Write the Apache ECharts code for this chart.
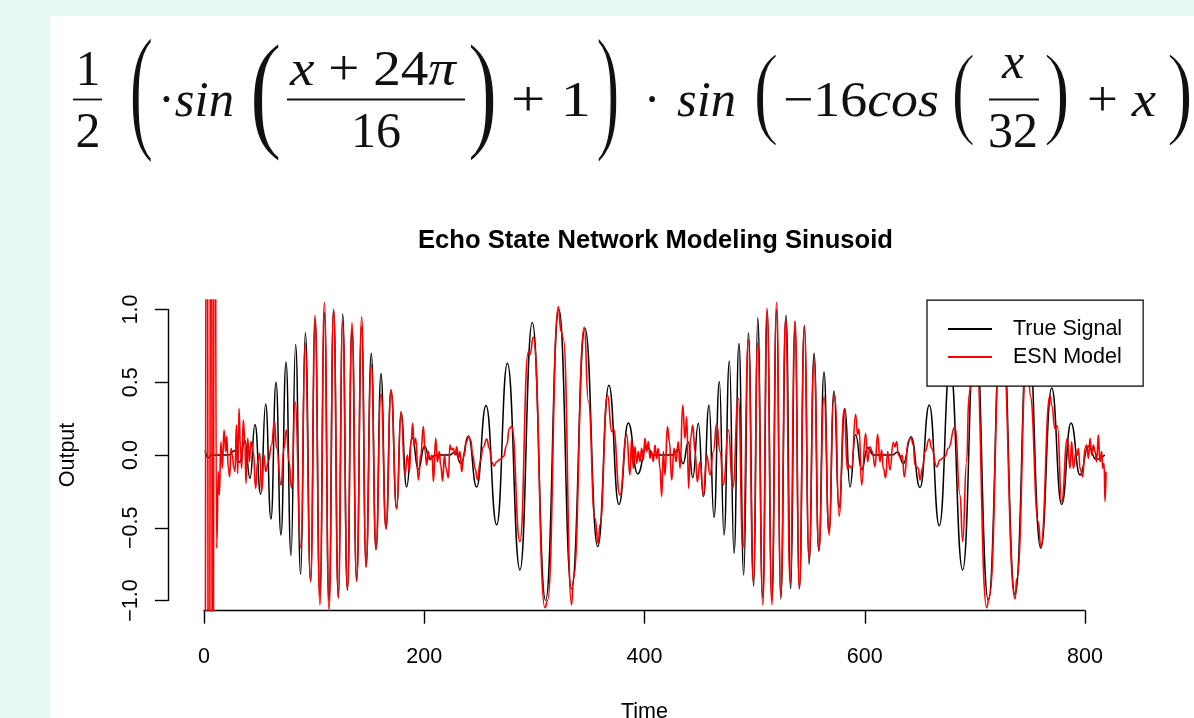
<!DOCTYPE html>
<html><head><meta charset="utf-8">
<script src="https://cdn.jsdelivr.net/npm/echarts@6/dist/echarts.min.js"></script>
<style>
html,body{margin:0;padding:0;width:1194px;height:718px;overflow:hidden;background:#e8f8f5;}
#panel{position:absolute;left:50px;top:16px;right:0;bottom:0;background:#fff;}
#formula{position:absolute;left:0;top:0;width:1194px;height:200px;}
#chart{position:absolute;left:0;top:0;width:1194px;height:718px;}
</style></head><body>
<div id="panel"></div>
<svg id="formula" xmlns="http://www.w3.org/2000/svg" width="1194" height="200"></svg>
<div id="chart"></div>
<script>
// ---------------- data ----------------
const trueTime = [1,4,7,22,27.5,32.5,37,41.8,46.3,51.5,56,60.8,65.4,69.9,74.5,79,83.2,87.8,92,96.9,100.8,105.3,109.3,113.5,117.7,122,125.9,130.2,134.4,138.6,143.2,147.1,151.9,156.2,160.7,165.3,169.8,175,178.9,184,189,194.6,200.3,205.2,210,223,228,233.4,240,247.6,256.1,265.8,275.5,286.9,298.1,310.2,322.3,333.8,346,357.5,367.7,376.8,385.3,393.8,402,408,426,430.5,435,439.8,443.8,448.9,453.5,458.6,463.1,468,472.2,477.1,481.3,485.8,490.1,494.3,499.2,502.8,507.3,511.6,515.5,520,523.7,528.5,532.8,536.7,540.6,545.2,549.4,554,558.3,563,567.5,572.1,576.6,582,586.6,591.7,597.2,602.6,608,625,630,635,642,650.2,658.6,667.7,677.5,688.9,700.3,712.2,724.4,736.5,748.4,759.8,769.8,778.8,787.3,795.5,803,810,818];
const trueValue = [0.03,-0.02,0,0,0.03,-0.05,0.1,-0.16,0.21,-0.27,0.35,-0.44,0.5,-0.55,0.64,-0.69,0.76,-0.82,0.84,-0.87,0.94,-0.97,0.98,-1.0,1.0,-0.98,0.97,-0.93,0.87,-0.86,0.88,-0.77,0.7,-0.65,0.56,-0.5,0.44,-0.37,0.29,-0.22,0.12,-0.1,0.06,-0.03,0,0,0.02,-0.06,0.13,-0.22,0.34,-0.48,0.63,-0.79,0.91,-1.0,1.0,-0.92,0.87,-0.63,0.48,-0.34,0.22,-0.13,0.06,0,0,0.04,-0.06,0.09,-0.156,0.218,-0.286,0.344,-0.43,0.504,-0.55,0.646,-0.676,0.767,-0.825,0.84,-0.9,0.944,-0.98,0.99,-1.0,1.0,-0.99,0.96,-0.92,0.92,-0.92,0.89,-0.75,0.7,-0.66,0.57,-0.53,0.44,-0.36,0.32,-0.22,0.14,-0.1,0.05,0,0,0.02,-0.06,0.126,-0.224,0.344,-0.486,0.62,-0.79,0.91,-1.0,1.0,-0.96,0.88,-0.64,0.46,-0.34,0.22,-0.137,0.06,-0.03,0];

const esnTime = [1,2.5,4.5,6.5,8,9.5,11.5,13,13.9,15.4,16.6,18.2,19.7,20.6,22.1,23.3,24.5,25.7,27.2,28.2,29.4,30.6,31.8,33,34.2,35.7,37.2,38.1,39.7,41.2,42.7,44.8,46.9,48.7,50.6,52.4,54.5,56,58.4,61.4,63.9,66,69.9,72.6,74.8,77.2,79.6,82.6,88.1,91.7,96.9,100.8,105.3,109.3,113.5,117.7,122,125.9,130.2,134.4,138.6,143.2,147.1,151.9,156.2,160.7,165.3,169.8,175,178.9,182.5,184.7,186.5,188,189.5,190.7,192.2,194.7,196.8,199.2,200.7,202.2,203.7,205.2,207.1,208.3,210.4,211.9,213.7,214.9,216.7,218.3,219.8,221.9,223.4,224.9,226.4,228,229.5,231,232.5,234,236.1,238.5,240.1,242.2,244,246.1,248.5,250.7,253.7,256.7,259.1,261.2,263.4,265.8,268.8,271.8,274.9,277.3,279.4,286.9,294.5,296,299,309.6,312,321.7,324.2,326.3,333.8,335.4,345.3,349,355,358,359.5,366.5,370.2,371.7,377.7,383.8,386.8,388.3,389.8,391.4,392.9,394.4,395.9,397.4,398.9,400.4,401.9,403.5,405,406.5,408,409.5,411,412.5,414.1,415.6,417.1,418.6,420.8,422.6,424.7,426.8,428.6,430.7,432.3,434.7,436.8,438.3,440.1,441.9,443.8,445.9,448,450.4,453.5,456.5,459.5,462.5,465.6,468.6,471.6,476.2,480.1,485.2,489.4,494.3,498.8,502.8,507.5,511.2,515.7,520,523.7,528.2,532.2,536.7,540.6,545.2,549.4,554,558.3,563,567.8,571.4,573,576.6,581.4,584.2,585.7,588.1,591.7,593.5,594.8,597.2,600.8,602.6,604.7,606.9,609.3,611.7,613.8,615.3,616.9,619,620.8,622.9,625.9,627.4,629,630.5,632.9,634.1,635.9,639.6,642,644.1,645.6,648.6,650.2,652.3,654.7,658.6,660.7,665.3,668.3,672.9,675.9,682,686.5,688.9,692.5,694.6,696.5,700.5,710.7,713,724,736.5,738,748,750.1,757.7,759.8,768.3,769.8,772.8,774.9,778.8,784,786.4,787.9,789.4,791.9,793.1,794,795.5,797.9,800,801.5,803.1,804.6,806.1,807.6,809.1,810.6,812.1,813.6,815.2,816.1,817.3,818.2,819.1];
const esnValue = [-4,4,-4,4,-4,4,-0.64,-0.114,-0.275,0.092,-0.09,0.172,0.023,0.126,-0.092,-0.149,0.046,0,-0.092,-0.114,0.206,-0.126,0.32,0.069,-0.092,0.24,0.069,-0.195,0.115,-0.046,0.092,0.023,-0.23,-0.046,0.011,-0.25,0,-0.114,-0.046,0.069,0.23,0.046,-0.206,0.046,0.172,-0.046,-0.229,0.366,-0.64,0.77,-0.87,0.96,-1.03,1.05,-1.07,1.0,-0.985,0.92,-0.92,0.91,-0.87,0.95,-0.77,0.62,-0.65,0.42,-0.51,0.45,-0.37,0.3,-0.137,0,-0.114,0.092,0.218,0.069,0.115,-0.172,0,0.195,0.023,-0.069,0.023,-0.034,0,-0.183,0.115,-0.046,0.023,-0.069,-0.179,0,-0.092,-0.156,0.069,0.034,0.046,0,0.057,-0.023,0.023,-0.114,0,0.092,0.126,0.103,0,-0.092,-0.172,-0.046,0.057,0.11,0.046,-0.046,-0.075,-0.046,-0.03,-0.011,0.069,0.183,0.195,-0.595,0.71,0.69,0.81,-1.05,-1.0,1.02,0.85,0.8,-1.03,-0.85,0.88,0.37,-0.435,-0.61,-0.48,0.41,0.16,0.18,-0.275,0.138,-0.137,0.115,-0.092,0.057,-0.057,0.023,-0.046,0.046,-0.034,0.115,0.023,0.092,-0.023,0.023,-0.046,0.069,-0.023,0.046,-0.092,-0.286,0.023,-0.137,0.195,0.092,-0.172,0.046,-0.046,0.092,-0.092,0.344,0.115,0.263,-0.229,0.115,0.206,0.023,-0.183,-0.046,-0.275,0,-0.137,0.023,0.218,0.023,-0.206,0.172,-0.229,0.39,-0.64,0.79,-0.87,0.77,-1.03,1.01,-1.03,1.05,-0.97,0.94,-0.88,0.92,-0.92,0.89,-0.71,0.65,-0.66,0.4,-0.55,0.367,0.41,-0.42,0.316,-0.1,-0.07,-0.09,0.28,0.14,0.18,-0.206,0.149,-0.046,0.057,0.023,-0.08,0.142,-0.046,0.034,-0.092,-0.156,0.023,-0.103,0.087,0.057,0.092,0,-0.023,0,-0.149,0.092,0.12,0.069,-0.069,-0.092,-0.172,-0.092,0.023,0.11,0.046,-0.08,-0.034,-0.011,0.046,0.195,-0.275,-0.595,-0.046,0.41,0.48,0.82,-1.05,-0.98,0.95,-0.99,-0.85,0.85,0.41,-0.46,-0.63,0.41,0.34,0.18,0.2,-0.32,0.115,-0.092,0.092,-0.092,0.023,0,0.046,-0.092,-0.149,0.046,0.069,-0.023,0.115,0,0.069,0.023,-0.046,0.138,-0.046,0.023,-0.092,-0.057,-0.32,-0.114];

const xTickValues = [0, 200, 400, 600, 800];
const yTickValues = [-1, -0.5, 0, 0.5, 1];
const seriesNames = ['True Signal', 'ESN Model'];
const chartTitle = 'Echo State Network Modeling Sinusoid';

// ---------------- formula (SVG text) ----------------
const NS = 'http://www.w3.org/2000/svg';
const svg = document.getElementById('formula');
const FF = '"Liberation Serif", "DejaVu Serif", serif';
function txt(parts, x, y, opts) {
  opts = opts || {};
  const t = document.createElementNS(NS, 'text');
  t.setAttribute('x', x); t.setAttribute('y', y);
  t.setAttribute('font-family', FF);
  t.setAttribute('font-size', opts.size || 50);
  t.setAttribute('fill', '#111');
  if (opts.anchor) t.setAttribute('text-anchor', opts.anchor);
  if (opts.len) { t.setAttribute('textLength', opts.len); t.setAttribute('lengthAdjust', 'spacingAndGlyphs'); }
  parts.forEach(p => {
    const s = document.createElementNS(NS, 'tspan');
    if (p[1]) s.setAttribute('font-style', 'italic');
    s.textContent = p[0];
    t.appendChild(s);
  });
  svg.appendChild(t);
}
function bar(x0, x1, y) {
  const l = document.createElementNS(NS, 'line');
  l.setAttribute('x1', x0); l.setAttribute('x2', x1);
  l.setAttribute('y1', y); l.setAttribute('y2', y);
  l.setAttribute('stroke', '#111'); l.setAttribute('stroke-width', 1.8);
  svg.appendChild(l);
}
const mctx = document.createElement('canvas').getContext('2d');
function paren(ch, x0, x1, y0, y1) {
  mctx.font = '100px "Liberation Serif"';
  const m = mctx.measureText(ch);
  const w = m.actualBoundingBoxLeft + m.actualBoundingBoxRight;
  const h = m.actualBoundingBoxAscent + m.actualBoundingBoxDescent;
  const sx = (x1 - x0) / w, sy = (y1 - y0) / h;
  const tx = x0 + m.actualBoundingBoxLeft * sx;
  const ty = y0 + m.actualBoundingBoxAscent * sy;
  const t = document.createElementNS(NS, 'text');
  t.setAttribute('x', 0); t.setAttribute('y', 0);
  t.setAttribute('font-family', FF); t.setAttribute('font-size', 100);
  t.setAttribute('fill', '#111');
  // thin the stretched glyph a little so it resembles TeX's light delimiters
  t.setAttribute('stroke', '#fff');
  t.setAttribute('stroke-width', 1.7);
  t.setAttribute('vector-effect', 'non-scaling-stroke');
  t.setAttribute('paint-order', 'fill');
  t.setAttribute('transform', 'translate(' + tx + ',' + ty + ') scale(' + sx + ',' + sy + ')');
  t.textContent = ch;
  svg.appendChild(t);
}
// 1/2
txt([['1']], 88, 85, {anchor: 'middle'});
bar(73, 102, 99.5);
txt([['2']], 88, 147, {anchor: 'middle'});
paren('(', 132, 152, 36, 165);
txt([['\u00B7'], ['sin', true]], 158, 116, {len: 76});
paren('(', 253, 280, 42, 163);
txt([['x', true], [' + 24'], ['\u03C0', true]], 290, 85, {len: 166});
bar(287, 465, 99.5);
txt([['16']], 376, 147, {anchor: 'middle'});
paren(')', 470, 494, 42, 163);
txt([['+ 1']], 511, 116, {len: 80});
paren(')', 598, 617, 36, 165);
txt([['\u00B7']], 652, 116, {anchor: 'middle'});
txt([['sin', true]], 677, 116, {len: 59});
paren('(', 756, 777, 53, 148);
txt([['\u2212'], ['16'], ['cos', true]], 783, 116, {len: 156});
paren('(', 954, 974, 52, 148);
txt([['x', true]], 1013, 78, {anchor: 'middle'});
bar(989, 1039, 99.5);
txt([['32']], 1013, 147, {anchor: 'middle'});
paren(')', 1046, 1067, 52, 148);
txt([['+ '], ['x', true]], 1087, 116, {len: 69});
paren(')', 1169, 1190, 52, 148);

// ---------------- chart ----------------
const X0PX = 204, X800PX = 1085, Y1PX = 309.5, YM1PX = 600.5;
const pxT = (X800PX - X0PX) / 800, pxV = (YM1PX - Y1PX) / 2, Y0PX = (Y1PX + YM1PX) / 2;
const tMin = -32.8, tMax = 852.8, vMin = -1.07, vMax = 1.065;
const plotLeft = X0PX + tMin * pxT, plotRight = X0PX + tMax * pxT;
const plotTop = Y0PX - vMax * pxV, plotBottom = Y0PX - vMin * pxV;
const SANS = '"Liberation Sans", Arial, Helvetica, sans-serif';
const AX = {color: '#000', width: 1.4};

const chart = echarts.init(document.getElementById('chart'), null, {renderer: 'canvas'});
chart.setOption({
  animation: false,
  backgroundColor: 'transparent',
  grid: [
    {left: plotLeft, top: plotTop, width: plotRight - plotLeft, height: plotBottom - plotTop, outerBoundsMode: 'none', containLabel: false},
    {left: X0PX, top: plotTop, width: X800PX - X0PX, height: plotBottom - plotTop, outerBoundsMode: 'none', containLabel: false},
    {left: plotLeft, top: Y1PX, width: plotRight - plotLeft, height: YM1PX - Y1PX, outerBoundsMode: 'none', containLabel: false}
  ],
  xAxis: [
    {gridIndex: 0, type: 'value', min: tMin, max: tMax, show: false},
    {gridIndex: 1, type: 'value', min: 0, max: 800, interval: 200,
      axisLine: {show: true, onZero: false, lineStyle: AX},
      axisTick: {show: true, length: 13, lineStyle: AX},
      axisLabel: {show: true, margin: 35, fontSize: 21.5, color: '#000', fontFamily: SANS,
        customValues: xTickValues, formatter: v => String(v)},
      splitLine: {show: false},
      name: 'Time', nameLocation: 'middle', nameGap: 90,
      nameTextStyle: {fontSize: 21.5, color: '#000', fontFamily: SANS}},
    {gridIndex: 2, type: 'value', min: 0, max: 1, show: false}
  ],
  yAxis: [
    {gridIndex: 0, type: 'value', min: vMin, max: vMax, show: false},
    {gridIndex: 1, type: 'value', min: 0, max: 1, show: false},
    {gridIndex: 2, type: 'value', min: -1, max: 1, interval: 0.5,
      axisLine: {show: true, onZero: false, lineStyle: AX},
      axisTick: {show: true, length: 13, lineStyle: AX},
      axisLabel: {show: true, rotate: 90, margin: 26, fontSize: 21.5, color: '#000', fontFamily: SANS,
        customValues: yTickValues,
        formatter: v => (v < 0 ? '\u2212' : '') + Math.abs(v).toFixed(1)},
      splitLine: {show: false},
      name: 'Output', nameLocation: 'middle', nameRotate: 90, nameGap: 89,
      nameTextStyle: {fontSize: 21.5, color: '#000', fontFamily: SANS}}
  ],
  legend: {
    data: seriesNames, orient: 'vertical', right: 1194 - plotRight, top: plotTop,
    backgroundColor: '#fff', borderColor: '#000', borderWidth: 1.2, borderRadius: 0,
    padding: [17, 21, 17, 21], itemGap: 4, itemWidth: 44, itemHeight: 2, icon: 'rect',
    selectedMode: false,
    textStyle: {fontSize: 21.5, color: '#000', fontFamily: SANS, lineHeight: 24, padding: [0, 0, 0, 16]}
  },
  graphic: [{
    type: 'text', x: (plotLeft + plotRight) / 2, y: 241,
    style: {text: chartTitle, fill: '#000', font: 'bold 25.6px ' + SANS, align: 'center', verticalAlign: 'middle'}
  }],
  series: [
    {name: seriesNames[0], type: 'line', xAxisIndex: 0, yAxisIndex: 0,
      data: trueTime.map((t, i) => [t, trueValue[i]]),
      showSymbol: false, smooth: 0.5, smoothMonotone: 'x', silent: true, clip: true,
      color: '#000', itemStyle: {color: '#000'}, lineStyle: {color: '#000', width: 1.5}, z: 2},
    {name: seriesNames[1], type: 'line', xAxisIndex: 0, yAxisIndex: 0,
      data: esnTime.map((t, i) => [t, esnValue[i]]),
      showSymbol: false, smooth: 0.5, smoothMonotone: 'x', silent: true, clip: true,
      color: '#ff0000', itemStyle: {color: '#ff0000'}, lineStyle: {color: '#ff0000', width: 1.6}, z: 3}
  ]
});
</script>
</body></html>
